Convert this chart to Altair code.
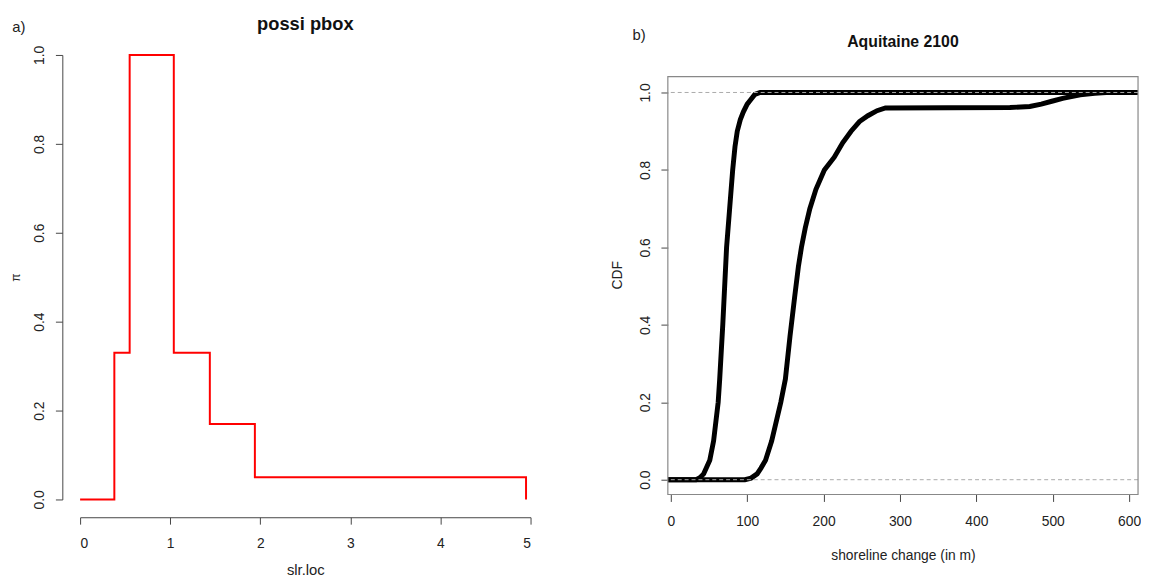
import altair as alt
import pandas as pd

FONT = "Liberation Sans"

# ---- panel a) possibility distribution (step function) ----
slr_x = [0, 0.38, 0.55, 1.04, 1.44, 1.94, 4.95]
slr_pi = [0, 0.33, 1.0, 0.33, 0.17, 0.05, 0]
slr_ticks = [0, 1, 2, 3, 4, 5]
pi_ticks = [0, 0.2, 0.4, 0.6, 0.8, 1.0]

# ---- panel b) CDF bounds of shoreline change ----
c1_x = [-4, 33, 38, 43, 51, 56, 62, 64, 68, 73, 77, 81, 84, 87, 91, 95, 100, 104, 110, 117, 612]
c1_y = [0, 0, 0.005, 0.015, 0.05, 0.1, 0.2, 0.26, 0.4, 0.6, 0.7, 0.8, 0.86, 0.9, 0.93, 0.95,
        0.97, 0.98, 0.995, 1.0, 1.0]
c2_x = [-4, 97, 105, 113, 118, 124, 132, 144, 150, 156, 162, 167, 171, 176, 182, 190, 201, 214,
        225, 236, 247, 258, 270, 281, 444, 470, 485, 500, 513, 536, 555, 570, 612]
c2_y = [0, 0, 0.004, 0.015, 0.03, 0.05, 0.1, 0.2, 0.26, 0.37, 0.47, 0.55, 0.6, 0.65, 0.7, 0.75,
        0.8, 0.833, 0.87, 0.9, 0.925, 0.94, 0.953, 0.96, 0.961, 0.964, 0.97, 0.978, 0.985,
        0.994, 0.998, 1.0, 1.0]
shore_ticks = [0, 100, 200, 300, 400, 500, 600]
cdf_ticks = [0, 0.2, 0.4, 0.6, 0.8, 1.0]
ref_levels = [0, 1]

df_a = pd.DataFrame({"x": slr_x, "pi": slr_pi})
df_b = pd.concat([
    pd.DataFrame({"x": c1_x, "cdf": c1_y, "curve": "upper"}),
    pd.DataFrame({"x": c2_x, "cdf": c2_y, "curve": "lower"}),
])
df_ref = pd.DataFrame({"h": ref_levels})
one = pd.DataFrame({"t": ["a)"]})
one_b = pd.DataFrame({"t": ["b)"]})

def axis_style(**kw):
    base = dict(grid=False, tickSize=7, labelFontSize=14, titleFontSize=14,
                labelColor="#222", titleColor="#222", tickColor="#444",
                domainColor="#444", titleFontWeight="normal", labelFont=FONT, titleFont=FONT)
    base.update(kw)
    return base

# ---------- panel a ----------
W_A, H_A = 456, 450
line_a = alt.Chart(df_a).mark_line(color="#ff0000", strokeWidth=2, interpolate="step-after").encode(
    x=alt.X("x:Q", scale=alt.Scale(domain=[0, 5], nice=False, zero=False),
            axis=alt.Axis(**axis_style(values=slr_ticks, format="d", title="slr.loc", offset=18,
                                       labelPadding=13, titlePadding=12, titleFontSize=15))),
    y=alt.Y("pi:Q", scale=alt.Scale(domain=[0, 1], nice=False),
            axis=alt.Axis(**axis_style(values=pi_ticks, format=".1f", title="π", offset=18,
                                       labelAngle=-90, labelAlign="center",
                                       labelBaseline="bottom", labelPadding=9,
                                       titlePadding=10, titleFontSize=12))),
)
lab_a = alt.Chart(one).mark_text(font=FONT, fontSize=15, color="#222", align="center",
                                 baseline="middle").encode(
    x=alt.value(-62), y=alt.value(-28), text="t:N")
panel_a = alt.layer(line_a, lab_a).properties(
    width=W_A, height=H_A,
    title=alt.TitleParams("possi pbox", fontSize=18.5, offset=-13, font=FONT, fontWeight="bold",
                          color="#111"))

# ---------- panel b ----------
W_B, H_B = 476, 445
x_scale_b = alt.Scale(domain=[-3.9, 611.7], nice=False, zero=False)
y_scale_b = alt.Scale(domain=[-0.0383, 1.0969], nice=False, zero=False)

lines_b = alt.Chart(df_b).mark_line(color="black", strokeWidth=5, clip=True).encode(
    x=alt.X("x:Q", scale=x_scale_b,
            axis=alt.Axis(**axis_style(values=shore_ticks, format="d",
                                       title="shoreline change (in m)", domain=False,
                                       labelPadding=13, titlePadding=21))),
    y=alt.Y("cdf:Q", scale=y_scale_b,
            axis=alt.Axis(**axis_style(values=cdf_ticks, format=".1f", title="CDF", domain=False,
                                       labelAngle=-90, labelAlign="center",
                                       labelBaseline="bottom", labelPadding=9,
                                       titlePadding=14))),
    detail="curve:N",
)
ref_b = alt.Chart(df_ref).mark_rule(color="#aaaaaa", strokeDash=[4, 3], strokeWidth=1).encode(
    y=alt.Y("h:Q", scale=y_scale_b))
frame_b = alt.Chart(one_b).mark_rect(fillOpacity=0, stroke="#888888", strokeWidth=1.2).encode(
    x=alt.value(0), x2=alt.value(W_B), y=alt.value(22), y2=alt.value(H_B))
lab_b = alt.Chart(one_b).mark_text(font=FONT, fontSize=15, color="#222", align="center",
                                   baseline="middle").encode(
    x=alt.value(-29), y=alt.value(-20), text="t:N")
panel_b = alt.layer(lines_b, ref_b, frame_b, lab_b).properties(
    width=W_B, height=H_B,
    title=alt.TitleParams("Aquitaine 2100", fontSize=16, offset=-22, font=FONT, fontWeight="bold",
                          color="#111"))

chart = (
    alt.hconcat(panel_a, panel_b, spacing=80)
    .properties(padding={"left": 2, "top": 3, "right": 0, "bottom": 0})
    .configure(font=FONT)
    .configure_view(strokeWidth=0, strokeOpacity=0)
)

chart.save("out.html", embed_options={"renderer": "svg", "actions": False})
